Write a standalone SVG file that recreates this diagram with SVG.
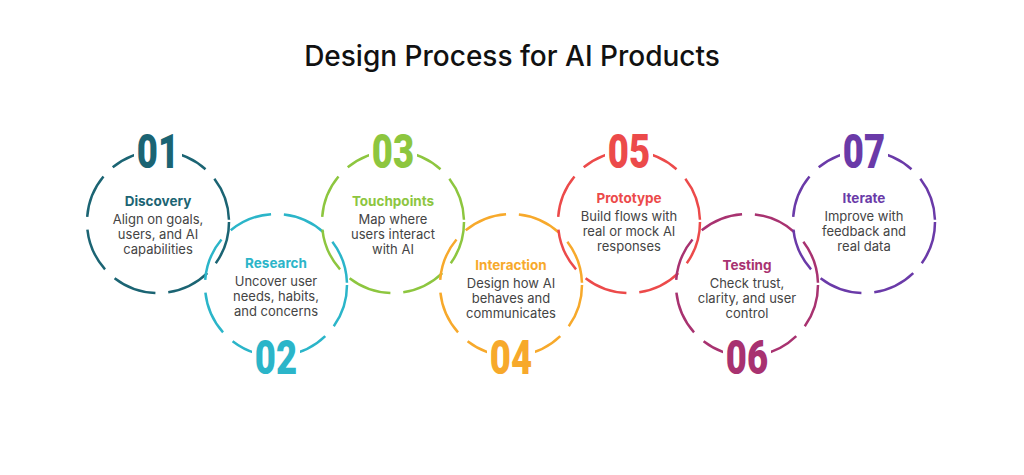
<svg xmlns="http://www.w3.org/2000/svg" width="1024" height="475" viewBox="0 0 1024 475">
<style>
.c{fill:none;stroke-width:2.5;stroke-dasharray:44 13}
.n{font-family:Roboto,"Liberation Sans",sans-serif;font-weight:900;font-size:48px;text-anchor:middle}
.h{font-family:Inter,"Liberation Sans",sans-serif;font-weight:bold;font-size:13.5px;text-anchor:middle}
.b{font-family:Inter,"Liberation Sans",sans-serif;font-size:13px;fill:#444;text-anchor:middle}
.bg{fill:#fff}
</style>
<rect width="1024" height="475" fill="#fff"/>
<text x="512" y="66" font-family="Inter,'Liberation Sans',sans-serif" font-weight="500" font-size="28" text-anchor="middle" fill="#111">Design Process for AI Products</text>
<g id="connectors"/>
<g id="n1"><circle class="c" cx="158" cy="222" r="71" stroke="#1b6473"/><rect class="bg" x="134" y="130" width="48" height="40"/><text class="n" transform="translate(158,168) scale(0.76,1)" fill="#1b6473">01</text><text class="h" x="158" y="206" fill="#1b6473">Discovery</text><text class="b" x="158" y="224">Align on goals,</text><text class="b" x="158" y="239">users, and AI</text><text class="b" x="158" y="254">capabilities</text></g>
<g id="n2"><circle class="c" cx="276" cy="285" r="71" stroke="#2bb5c9"/><rect class="bg" x="252" y="336" width="48" height="40"/><text class="n" transform="translate(276,374) scale(0.76,1)" fill="#2bb5c9">02</text><text class="h" x="276" y="268" fill="#2bb5c9">Research</text><text class="b" x="276" y="286">Uncover user</text><text class="b" x="276" y="301">needs, habits,</text><text class="b" x="276" y="316">and concerns</text></g>
<g id="n3"><circle class="c" cx="393" cy="222" r="71" stroke="#8dc63f"/><rect class="bg" x="369" y="130" width="48" height="40"/><text class="n" transform="translate(393,168) scale(0.76,1)" fill="#8dc63f">03</text><text class="h" x="393" y="206" fill="#8dc63f">Touchpoints</text><text class="b" x="393" y="224">Map where</text><text class="b" x="393" y="239">users interact</text><text class="b" x="393" y="254">with AI</text></g>
<g id="n4"><circle class="c" cx="511" cy="285" r="71" stroke="#f7a92b"/><rect class="bg" x="487" y="336" width="48" height="40"/><text class="n" transform="translate(511,374) scale(0.76,1)" fill="#f7a92b">04</text><text class="h" x="511" y="270" fill="#f7a92b">Interaction</text><text class="b" x="511" y="288">Design how AI</text><text class="b" x="511" y="303">behaves and</text><text class="b" x="511" y="318">communicates</text></g>
<g id="n5"><circle class="c" cx="629" cy="222" r="71" stroke="#ec4a4a"/><rect class="bg" x="605" y="130" width="48" height="40"/><text class="n" transform="translate(629,168) scale(0.76,1)" fill="#ec4a4a">05</text><text class="h" x="629" y="203" fill="#ec4a4a">Prototype</text><text class="b" x="629" y="221">Build flows with</text><text class="b" x="629" y="236">real or mock AI</text><text class="b" x="629" y="251">responses</text></g>
<g id="n6"><circle class="c" cx="747" cy="285" r="71" stroke="#a83270"/><rect class="bg" x="723" y="336" width="48" height="40"/><text class="n" transform="translate(747,374) scale(0.76,1)" fill="#a83270">06</text><text class="h" x="747" y="270" fill="#a83270">Testing</text><text class="b" x="747" y="288">Check trust,</text><text class="b" x="747" y="303">clarity, and user</text><text class="b" x="747" y="318">control</text></g>
<g id="n7"><circle class="c" cx="864" cy="222" r="71" stroke="#6a3aa8"/><rect class="bg" x="840" y="130" width="48" height="40"/><text class="n" transform="translate(864,168) scale(0.76,1)" fill="#6a3aa8">07</text><text class="h" x="864" y="203" fill="#6a3aa8">Iterate</text><text class="b" x="864" y="221">Improve with</text><text class="b" x="864" y="236">feedback and</text><text class="b" x="864" y="251">real data</text></g>
</svg>
